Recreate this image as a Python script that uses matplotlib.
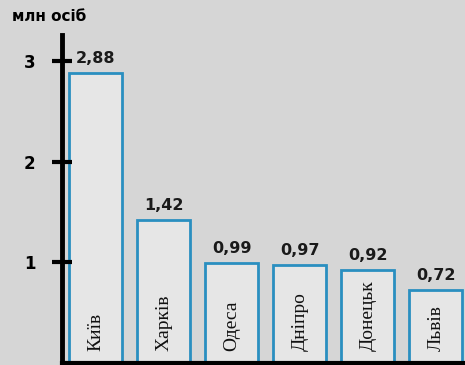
import matplotlib.pyplot as plt

cities = ['Київ', 'Харків', 'Одеса', 'Дніпро', 'Донецьк', 'Львів']
population = [2.88, 1.42, 0.99, 0.97, 0.92, 0.72]
value_labels = ['2,88', '1,42', '0,99', '0,97', '0,92', '0,72']
yticks = [1, 2, 3]

fig = plt.figure(figsize=(4.65, 3.65), dpi=100)
fig.patch.set_facecolor('#d6d6d6')
ax = fig.add_axes([0.133, 0.006, 0.867, 0.898])
ax.set_facecolor('#d6d6d6')

x = range(len(cities))
ax.bar(x, population, width=0.78, color='#e6e6e6', edgecolor='#2a8fc0', linewidth=2)

for i, (name, v, lab) in enumerate(zip(cities, population, value_labels)):
    ax.text(i, 0.12, name, rotation=90, ha='center', va='bottom',
            family='Liberation Serif', fontsize=14, color='#111111')
    ax.text(i, v + 0.07, lab, ha='center', va='bottom',
            fontweight='bold', fontsize=11.5, color='#1a1a1a')

ax.set_xlim(-0.5, 5.43)
ax.set_ylim(0, 3.26)
ax.set_yticks(yticks)
ax.set_yticklabels([str(t) for t in yticks], fontweight='bold', fontsize=12)
ax.tick_params(axis='y', direction='inout', length=14, width=3, pad=12, color='black')
ax.set_xticks([])

for s in ['top', 'right']:
    ax.spines[s].set_visible(False)
ax.spines['left'].set_linewidth(3.5)
ax.spines['bottom'].set_linewidth(3)

fig.text(0.025, 0.955, 'млн осіб', fontweight='bold', fontsize=11, va='center', ha='left')

fig.savefig('out.png', dpi=100, facecolor=fig.get_facecolor())
